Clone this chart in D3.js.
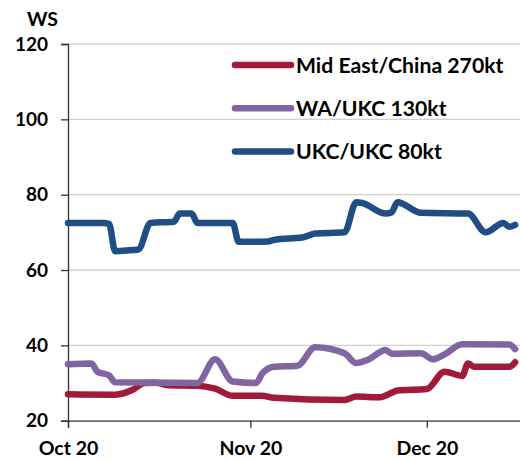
<!DOCTYPE html>
<html>
<head>
<meta charset="utf-8">
<script src="https://cdn.jsdelivr.net/npm/d3@7"></script>
<style>
  body { margin: 0; background: #fff; }
  text { font-family: Lato, "Open Sans", sans-serif; font-weight: 700; fill: #000; }
</style>
</head>
<body>
<div id="chart"></div>
<script>
// series names (legend order)
const seriesNames = ["Mid East/China 270kt", "WA/UKC 130kt", "UKC/UKC 80kt"];
const seriesColors = ["#a31a38", "#8165a3", "#1f4e84"];

// [date, WS] pairs
const midEastChina = [
  ["2020-10-20", 27], ["2020-10-28", 26.9], ["2020-10-31", 28.2], ["2020-11-02", 30],
  ["2020-11-04", 30.1], ["2020-11-06", 29.4], ["2020-11-11", 29.3], ["2020-11-14", 28.5],
  ["2020-11-17", 26.6], ["2020-11-22", 26.6], ["2020-11-24", 26.1], ["2020-12-06", 25.5],
  ["2020-12-08", 26.4], ["2020-12-12", 26.2], ["2020-12-14", 27.4], ["2020-12-15", 28],
  ["2020-12-20", 28.4], ["2020-12-23", 33], ["2020-12-26", 31.9], ["2020-12-27", 35.2],
  ["2020-12-28", 34.3], ["2021-01-03", 34.3], ["2021-01-04", 35.5]
];
const waUkc = [
  ["2020-10-20", 35], ["2020-10-24", 35.2], ["2020-10-25", 33], ["2020-10-27", 32],
  ["2020-10-28", 30.2], ["2020-11-11", 30], ["2020-11-14", 36.3], ["2020-11-17", 30.4],
  ["2020-11-21", 30], ["2020-11-22", 32.5], ["2020-11-24", 34.3], ["2020-11-28", 34.6],
  ["2020-12-01", 39.5], ["2020-12-06", 37.9], ["2020-12-08", 35.3], ["2020-12-10", 36.2],
  ["2020-12-13", 38.8], ["2020-12-14", 37.8], ["2020-12-19", 37.9], ["2020-12-21", 36.3],
  ["2020-12-23", 37.6], ["2020-12-26", 40.3], ["2021-01-03", 40.2], ["2021-01-04", 39]
];
const ukcUkc = [
  ["2020-10-20", 72.5], ["2020-10-26", 72.5], ["2020-10-27", 72.2], ["2020-10-28", 65],
  ["2020-10-31", 65.3], ["2020-11-01", 65.5], ["2020-11-03", 72.5], ["2020-11-07", 72.8],
  ["2020-11-08", 75], ["2020-11-10", 75], ["2020-11-11", 72.5], ["2020-11-17", 72.5],
  ["2020-11-18", 67.5], ["2020-11-23", 67.6], ["2020-11-24", 68], ["2020-11-29", 68.7],
  ["2020-12-01", 69.7], ["2020-12-06", 70], ["2020-12-08", 78], ["2020-12-09", 77.8],
  ["2020-12-13", 75], ["2020-12-14", 75.3], ["2020-12-15", 78], ["2020-12-19", 75.2],
  ["2020-12-27", 75], ["2020-12-30", 70], ["2021-01-02", 72.5], ["2021-01-03", 71.5],
  ["2021-01-04", 72]
];

const yTicks = [20, 40, 60, 80, 100, 120];
const xTicks = ["2020-10-20", "2020-11-20", "2020-12-20"];
const xTickLabels = ["Oct 20", "Nov 20", "Dec 20"];

const width = 520, height = 461;
const parse = d3.timeParse("%Y-%m-%d");

const svg = d3.select("#chart").append("svg")
    .attr("width", width)
    .attr("height", height);

const x = d3.scaleTime()
    .domain([parse("2020-10-20"), parse("2021-01-05")])
    .range([68, 521]);

const y = d3.scaleLinear()
    .domain([20, 120])
    .range([420.7, 44]);

// gridlines
svg.append("g")
    .selectAll("line")
    .data(yTicks.slice(1))
    .join("line")
    .attr("x1", 68).attr("x2", width)
    .attr("y1", d => y(d)).attr("y2", d => y(d))
    .attr("stroke", "#d0d0d0")
    .attr("stroke-width", 1.3);

// y axis
const yAxis = svg.append("g")
    .attr("transform", "translate(68,0)")
    .call(d3.axisLeft(y).tickValues(yTicks).tickSize(7).tickPadding(13));
yAxis.select(".domain").attr("stroke", "#333").attr("stroke-width", 1.3);
yAxis.selectAll(".tick line").attr("stroke", "#333").attr("stroke-width", 1.3);
yAxis.selectAll(".tick text").style("font-size", "19px");

// x axis
const xAxis = svg.append("g")
    .attr("transform", `translate(0,${y(20)})`)
    .call(d3.axisBottom(x).tickValues(xTicks.map(parse)).tickFormat((d, i) => xTickLabels[i]).tickSize(7).tickPadding(13));
xAxis.select(".domain").attr("stroke", "#333").attr("stroke-width", 1.3);
xAxis.selectAll(".tick line").attr("stroke", "#333").attr("stroke-width", 1.3);
xAxis.selectAll(".tick text").style("font-size", "19.5px");

// unit label
svg.append("text")
    .attr("x", 27).attr("y", 26)
    .style("font-size", "19.5px")
    .text("WS");

// lines
const line = d3.line()
    .x(d => x(parse(d[0])))
    .y(d => y(d[1]))
    .curve(d3.curveMonotoneX);

const allSeries = [midEastChina, waUkc, ukcUkc];

svg.append("g")
    .selectAll("path")
    .data(allSeries)
    .join("path")
    .attr("d", line)
    .attr("fill", "none")
    .attr("stroke", (d, i) => seriesColors[i])
    .attr("stroke-width", 6.5)
    .attr("stroke-linejoin", "round")
    .attr("stroke-linecap", "round");

// legend
const legend = svg.append("g")
    .selectAll("g")
    .data(seriesNames)
    .join("g")
    .attr("transform", (d, i) => `translate(235,${65 + i * 43.3})`);

legend.append("line")
    .attr("x1", 0).attr("x2", 56)
    .attr("stroke", (d, i) => seriesColors[i])
    .attr("stroke-width", 6.5)
    .attr("stroke-linecap", "round");

legend.append("text")
    .attr("x", 61).attr("y", 7.5)
    .style("font-size", "21.2px")
    .text(d => d);
</script>
</body>
</html>
